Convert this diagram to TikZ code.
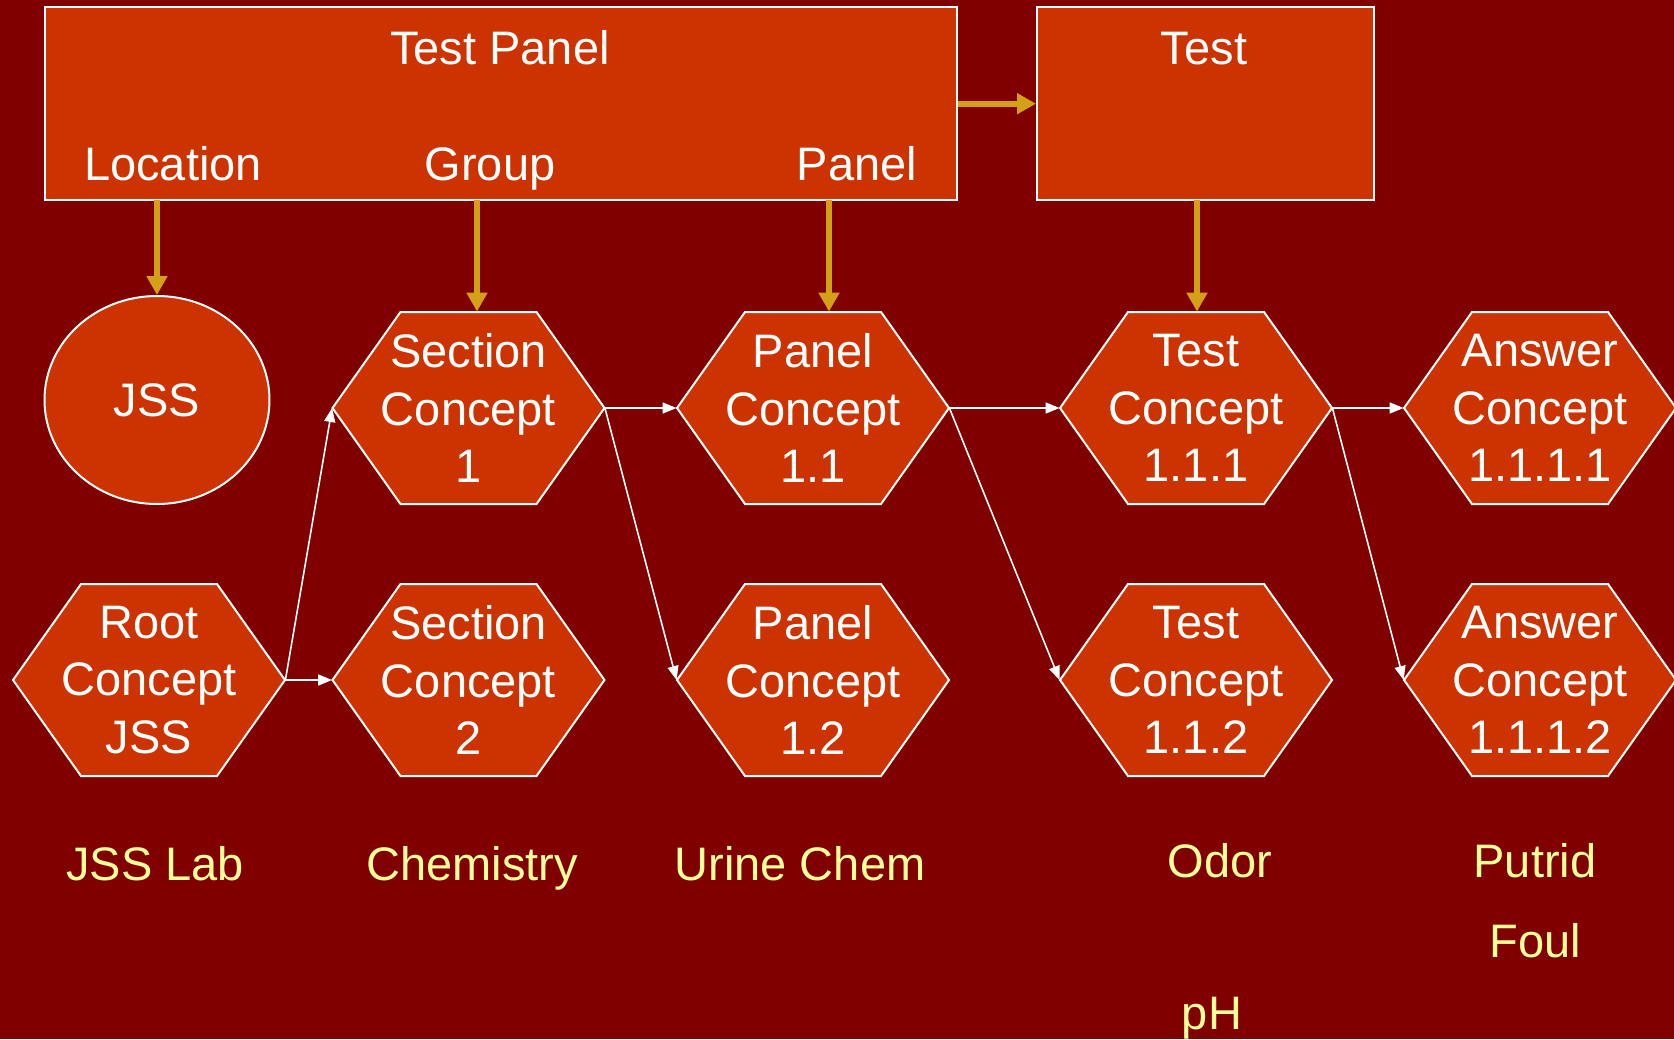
\documentclass[tikz,border=0pt]{standalone}
\usepackage{fontspec}
\setmainfont{Liberation Sans}
\usetikzlibrary{arrows.meta,shapes.geometric}
\definecolor{bgmaroon}{HTML}{800000}
\definecolor{boxfill}{HTML}{CC3300}
\definecolor{goldline}{HTML}{D4A017}
\definecolor{paleyellow}{HTML}{FFFF99}
\newcommand\hexshape[1]{\filldraw[hexline,shift={(#1)}] (-136,0) -- (-68,-96) -- (68,-96) -- (136,0) -- (68,96) -- (-68,96) -- cycle;}
\begin{document}
\begin{tikzpicture}[x=0.5pt,y=-0.5pt,
  bigfont/.style={font=\fontsize{23.5}{28.75}\selectfont},
  lbl/.style={bigfont,text=white,inner sep=0pt,anchor=base},
  ylbl/.style={bigfont,text=paleyellow,inner sep=0pt,anchor=base},
  hexa/.style={bigfont,text=white,align=center,inner sep=0pt,minimum width=136pt,minimum height=96pt},
  hexline/.style={fill=boxfill,draw=white,line width=1pt},
  boxst/.style={fill=boxfill,draw=white,line width=1pt,inner sep=0pt},
  goldarrow/.style={draw=goldline,line width=3pt,-{Triangle[length=9.5pt,width=10pt]}},
  link/.style={draw=white,line width=0.8pt,-{Triangle[length=7pt,width=5.5pt]}}]
\clip (0,0) rectangle (1674,1039);
\fill[bgmaroon] (0,0) rectangle (1674,1039);
% top boxes
\node[boxst,minimum width=456pt,minimum height=96.5pt] (TP) at (501,103.7) {};
\node[boxst,minimum width=168.5pt,minimum height=96.5pt] (TB) at (1205.5,103.7) {};
\node[lbl] (tptitle) at (500,64) {Test Panel};
\node[lbl] (loc) at (173,180) {Location};
\node[lbl] (grp) at (490,180) {Group};
\node[lbl] (pan) at (857,180) {Panel};
\node[lbl] (tbtitle) at (1204,64) {Test};
% JSS ellipse
\node[ellipse,fill=boxfill,draw=white,line width=1pt,minimum width=112.5pt,minimum height=104pt,bigfont,text=white,inner sep=0pt] (JSS) at (157,400) {JSS};
% hexagons
\hexshape{149,680}\node[hexa] (RC) at (149,680) {Root\\Concept\\JSS};
\hexshape{468.5,408}\node[hexa] (SC1) at (468.5,408) {Section\\Concept\\1};
\hexshape{468.5,680}\node[hexa] (SC2) at (468.5,680) {Section\\Concept\\2};
\hexshape{813,408}\node[hexa] (PC11) at (813,408) {Panel\\Concept\\1.1};
\hexshape{813,680}\node[hexa] (PC12) at (813,680) {Panel\\Concept\\1.2};
\hexshape{1196,408}\node[hexa] (TC111) at (1196,408) {Test\\Concept\\1.1.1};
\hexshape{1196,680}\node[hexa] (TC112) at (1196,680) {Test\\Concept\\1.1.2};
\hexshape{1540,408}\node[hexa] (AC1) at (1540,408) {Answer\\Concept\\1.1.1.1};
\hexshape{1540,680}\node[hexa] (AC2) at (1540,680) {Answer\\Concept\\1.1.1.2};
% gold arrows
\coordinate (locpt) at (157,200);
\coordinate (grppt) at (477,200);
\coordinate (panpt) at (829,200);
\coordinate (tstpt) at (1197,200);
\draw[goldarrow] (locpt) -- (JSS.north);
\draw[goldarrow] (grppt) -- (grppt |- SC1.north);
\draw[goldarrow] (panpt) -- (panpt |- PC11.north);
\draw[goldarrow] (tstpt) -- (tstpt |- TC111.north);
\draw[goldarrow] (TP.east) -- (TB.west);
% white links
\draw[link] (RC.east) -- (SC1.west);
\draw[link] (RC.east) -- (SC2.west);
\draw[link] (SC1.east) -- (PC11.west);
\draw[link] (SC1.east) -- (PC12.west);
\draw[link] (PC11.east) -- (TC111.west);
\draw[link] (PC11.east) -- (TC112.west);
\draw[link] (TC111.east) -- (AC1.west);
\draw[link] (TC111.east) -- (AC2.west);
% bottom labels
\node[ylbl] (l1) at (155,880) {JSS Lab};
\node[ylbl] (l2) at (472,880) {Chemistry};
\node[ylbl] (l3) at (800,880) {Urine Chem};
\node[ylbl] (l4) at (1220,877) {Odor};
\node[ylbl] (l5) at (1212,1029) {pH};
\node[ylbl] (l6) at (1535,877) {Putrid};
\node[ylbl] (l7) at (1535,957) {Foul};
\end{tikzpicture}
\end{document}
